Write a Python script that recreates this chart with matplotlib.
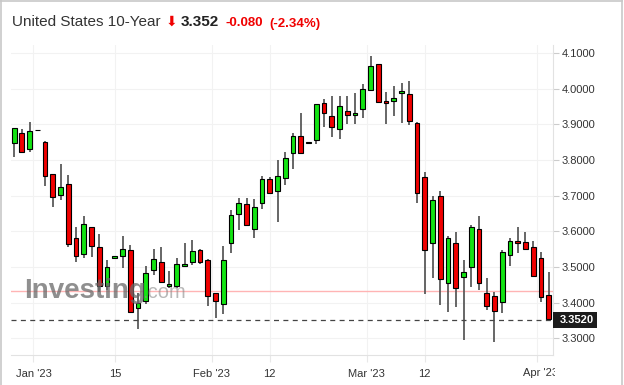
import matplotlib
matplotlib.use("Agg")
import matplotlib.pyplot as plt
import numpy as np
import pandas as pd
from matplotlib.patches import Rectangle
from matplotlib.lines import Line2D
from matplotlib.transforms import Bbox

plt.rcParams['font.family'] = ['Liberation Sans', 'DejaVu Sans']

# daily candles, US 10Y yield, 28 Dec 2022 .. 4 Apr 2023 (weekdays)
dates = pd.bdate_range('2022-12-28', '2023-04-04')
opens = [3.849, 3.875, 3.831, 3.883, 3.851, 3.760, 3.702, 3.732, 3.580, 3.536,
         3.611, 3.557, 3.447, 3.525, 3.531, 3.548, 3.384, 3.405, 3.492, 3.515,
         3.446, 3.447, 3.504, 3.515, 3.547, 3.519, 3.426, 3.396, 3.566, 3.648,
         3.676, 3.606, 3.679, 3.747, 3.714, 3.749, 3.820, 3.867, 3.847, 3.856,
         3.959, 3.923, 3.887, 3.937, 3.925, 3.942, 3.996, 4.069, 3.966, 3.966,
         3.987, 3.984, 3.905, 3.751, 3.566, 3.699, 3.454, 3.568, 3.471, 3.499,
         3.607, 3.426, 3.419, 3.403, 3.534, 3.574, 3.571, 3.555, 3.524, 3.421]
highs = [3.891, 3.887, 3.907, 3.883, 3.853, 3.762, 3.788, 3.758, 3.613, 3.644,
         3.612, 3.592, 3.520, 3.530, 3.588, 3.562, 3.426, 3.504, 3.550, 3.557,
         3.490, 3.524, 3.566, 3.576, 3.549, 3.521, 3.427, 3.560, 3.660, 3.693,
         3.694, 3.691, 3.755, 3.753, 3.800, 3.823, 3.875, 3.931, 3.851, 3.957,
         3.970, 3.980, 3.980, 3.980, 3.987, 4.012, 4.092, 4.070, 3.990, 4.008,
         4.015, 4.022, 3.906, 3.765, 3.699, 3.714, 3.587, 3.599, 3.520, 3.618,
         3.643, 3.468, 3.431, 3.548, 3.580, 3.613, 3.597, 3.574, 3.543, 3.487]
lows = [3.809, 3.820, 3.822, 3.883, 3.727, 3.667, 3.687, 3.555, 3.513, 3.526,
        3.529, 3.431, 3.435, 3.525, 3.498, 3.373, 3.326, 3.395, 3.478, 3.458,
        3.440, 3.442, 3.501, 3.506, 3.508, 3.391, 3.356, 3.368, 3.538, 3.604,
        3.617, 3.580, 3.662, 3.707, 3.627, 3.730, 3.774, 3.818, 3.847, 3.844,
        3.893, 3.865, 3.858, 3.900, 3.901, 3.919, 3.995, 3.960, 3.901, 3.924,
        3.903, 3.898, 3.679, 3.424, 3.468, 3.393, 3.375, 3.387, 3.295, 3.445,
        3.435, 3.379, 3.290, 3.372, 3.504, 3.538, 3.549, 3.474, 3.403, 3.352]
closes = [3.889, 3.822, 3.882, 3.883, 3.756, 3.695, 3.725, 3.564, 3.531, 3.620,
          3.559, 3.447, 3.501, 3.530, 3.550, 3.375, 3.400, 3.484, 3.522, 3.459,
          3.452, 3.508, 3.508, 3.545, 3.515, 3.419, 3.405, 3.520, 3.646, 3.680,
          3.618, 3.667, 3.747, 3.708, 3.755, 3.806, 3.867, 3.819, 3.851, 3.956,
          3.931, 3.893, 3.951, 3.926, 3.933, 3.998, 4.064, 3.962, 3.961, 3.973,
          3.994, 3.910, 3.708, 3.548, 3.688, 3.465, 3.580, 3.440, 3.485, 3.611,
          3.454, 3.391, 3.377, 3.543, 3.574, 3.568, 3.550, 3.475, 3.417, 3.354]

prev_close = 3.432
last = 3.352
yticks = [3.3, 3.4, 3.5, 3.6, 3.7, 3.8, 3.9, 4.0, 4.1]
xtick_pos = [2.5, 13, 25.5, 33, 45.5, 53, 67.5]
xtick_labels = ["Jan '23", "15", "Feb '23", "12", "Mar '23", "12", "Apr '23"]

green = '#13e413'
red = '#f00000'

fig = plt.figure(figsize=(6.24, 3.85), dpi=100)
ax = fig.add_axes([11 / 624, 1 - 355 / 385, 542 / 624, 310 / 385])

x = np.arange(len(dates))
o = np.array(opens)
c = np.array(closes)
up = c >= o
ax.vlines(x, lows, highs, color='#5a5a5a', lw=1.3, zorder=2)
ax.bar(x, np.abs(c - o), bottom=np.minimum(o, c), width=0.62,
       color=np.where(up, green, red), edgecolor='black', linewidth=0.8, zorder=3)

ax.axhline(prev_close, color='#ffb4b4', lw=1, zorder=1)
ax.axhline(last, color='#444444', lw=0.9, ls=(0, (4, 3.5)), zorder=4)

ax.set_xlim(-0.4, 69.55)
ax.set_ylim(3.253, 4.1225)
ax.set_yticks(yticks)
ax.set_yticklabels(['%.4f' % v for v in yticks])
ax.set_xticks(xtick_pos)
# last label is drawn by hand below, cut by the price axis
ax.set_xticklabels(xtick_labels[:-1] + [''])
ax.yaxis.tick_right()
ax.tick_params(axis='y', length=4, color='#cccccc', labelsize=8, labelcolor='#333333', pad=2.5)
ax.tick_params(axis='x', length=5, color='#e8e8e8', labelsize=8, labelcolor='#333333', pad=5)
ax.grid(color='#f2f2f2', lw=0.8)
ax.set_axisbelow(True)
for s in ['top', 'left']:
    ax.spines[s].set_visible(False)
for s in ['bottom', 'right']:
    ax.spines[s].set_color('#e2e2e2')

apr = ax.text(xtick_pos[-1] + 0.45, -18 / 310, xtick_labels[-1], transform=ax.get_xaxis_transform(),
              ha='center', va='center', fontsize=8, color='#333333')
apr.set_clip_box(Bbox([[0, 0], [554.5, 385]]))
apr.set_clip_on(True)

# last value tag on the price axis
ax.add_patch(Rectangle((1.0, last - 0.0225), 44 / 542, 0.045, transform=ax.get_yaxis_transform(),
                       facecolor='#1c1c1c', edgecolor='none', clip_on=False, zorder=5))
ax.text(549 / 542, last, '%.4f' % last, transform=ax.get_yaxis_transform(), ha='left', va='center',
        color='white', fontsize=8, fontweight='bold', zorder=6, clip_on=False)

# header
fig.text(12 / 624, 1 - 26.5 / 385, 'United States 10-Year', fontsize=11, color='#333333', va='baseline')
fig.text(165.5 / 624, 1 - 26 / 385, '\u2b07', fontsize=10, color=red, va='baseline', family='DejaVu Sans')
fig.text(181 / 624, 1 - 26.5 / 385, '3.352', fontsize=11, color='#222222', fontweight='bold', va='baseline')
fig.text(226 / 624, 1 - 26.5 / 385, '-0.080', fontsize=9.5, color=red, fontweight='bold', va='baseline')
fig.text(269 / 624, 1 - 26.5 / 385, '(-2.34%)', fontsize=9.5, color=red, fontweight='bold', va='baseline')

# watermark
fig.text(24 / 624, 1 - 298 / 385, 'Investing', fontsize=20, fontweight='bold', color='#6a6a6a',
         alpha=0.75, va='baseline', zorder=10)
fig.text(142 / 624, 1 - 298 / 385, '.com', fontsize=14.5, color='#8a8a8a', alpha=0.6, va='baseline', zorder=10)

# frame around the widget
for xy in [([0.0015, 0.0015], [0, 1]), ([0, 622 / 624], [0.998, 0.998]), ([622 / 624, 622 / 624], [0, 1])]:
    fig.add_artist(Line2D(xy[0], xy[1], color='#c8c8c8', lw=1.2, transform=fig.transFigure))

fig.savefig('out.png', dpi=100)
